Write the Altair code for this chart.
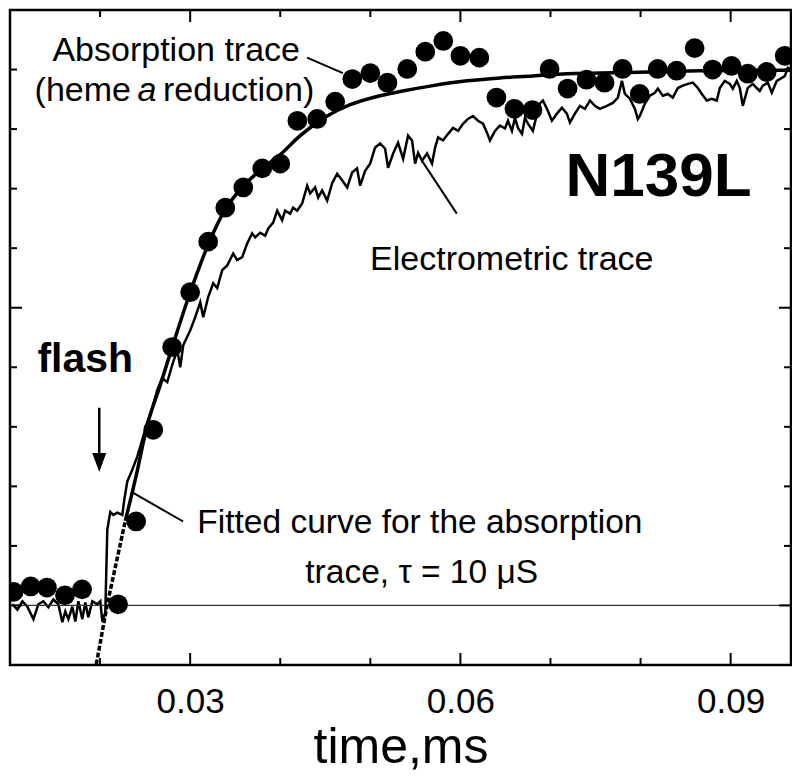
import altair as alt
import pandas as pd

# ---------------- data (time in ms, signal in arbitrary units) ----------------
x_major = [0.03, 0.06, 0.09]
x_minor = [0.02, 0.04, 0.05, 0.07, 0.08]
y_major = [0, 5]
y_minor = [1, 2, 3, 4, 6, 7, 8, 9]

# absorption trace (filled circles)
abs_t = [0.0104, 0.0123, 0.0141, 0.0161, 0.0180, 0.0220, 0.0240, 0.0259, 0.0280, 0.0300,
         0.0320, 0.0339, 0.0359, 0.0380, 0.0400, 0.0419, 0.0441, 0.0461, 0.0480, 0.0500,
         0.0519, 0.0541, 0.0561, 0.0581, 0.0600, 0.0621, 0.0640, 0.0660, 0.0680, 0.0699,
         0.0719, 0.0740, 0.0760, 0.0780, 0.0799, 0.0819, 0.0840, 0.0860, 0.0880, 0.0901,
         0.0919, 0.0940, 0.0960, 0.0980]
abs_v = [0.23, 0.32, 0.30, 0.17, 0.27, 0.02, 1.41, 2.95, 4.34, 5.26,
         6.11, 6.68, 7.02, 7.34, 7.42, 8.14, 8.17, 8.46, 8.84, 8.94,
         8.78, 9.01, 9.30, 9.48, 9.23, 9.20, 8.53, 8.34, 8.32, 9.01,
         8.68, 8.83, 8.78, 9.01, 8.59, 9.01, 8.98, 9.36, 9.00, 9.06,
         8.93, 8.96, 9.23, 8.32]

# electrometric trace (noisy line)
el_t = [0.01027, 0.01082, 0.01138, 0.01193, 0.01260, 0.01315, 0.01370, 0.01426, 0.01481, 0.01537,
        0.01581, 0.01614, 0.01648, 0.01692, 0.01725, 0.01759, 0.01803, 0.01836, 0.01869, 0.01914,
        0.01969, 0.02003, 0.02025, 0.02058, 0.02080, 0.02113, 0.02147, 0.02191, 0.02247, 0.02269,
        0.02302, 0.02357, 0.02413, 0.02468, 0.02524, 0.02580, 0.02635, 0.02690, 0.02746, 0.02801,
        0.02857, 0.02890, 0.02923, 0.03001, 0.03056, 0.03112, 0.03145, 0.03200, 0.03256, 0.03300,
        0.03356, 0.03411, 0.03478, 0.03522, 0.03578, 0.03633, 0.03688, 0.03722, 0.03777, 0.03833,
        0.03866, 0.03921, 0.03966, 0.04021, 0.04054, 0.04110, 0.04143, 0.04188, 0.04243, 0.04299,
        0.04332, 0.04387, 0.04421, 0.04465, 0.04521, 0.04576, 0.04632, 0.04687, 0.04743, 0.04798,
        0.04853, 0.04887, 0.04942, 0.04998, 0.05053, 0.05109, 0.05164, 0.05197, 0.05253, 0.05308,
        0.05364, 0.05419, 0.05463, 0.05497, 0.05530, 0.05574, 0.05630, 0.05685, 0.05719, 0.05752,
        0.05807, 0.05863, 0.05918, 0.05974, 0.06029, 0.06084, 0.06140, 0.06195, 0.06251, 0.06295,
        0.06328, 0.06384, 0.06439, 0.06495, 0.06528, 0.06572, 0.06606, 0.06639, 0.06684, 0.06717,
        0.06750, 0.06805, 0.06850, 0.06883, 0.06916, 0.06961, 0.07016, 0.07072, 0.07127, 0.07182,
        0.07216, 0.07271, 0.07327, 0.07382, 0.07438, 0.07493, 0.07549, 0.07626, 0.07693, 0.07748,
        0.07793, 0.07826, 0.07881, 0.07937, 0.07970, 0.07992, 0.08048, 0.08103, 0.08159, 0.08192,
        0.08247, 0.08303, 0.08358, 0.08414, 0.08469, 0.08525, 0.08580, 0.08636, 0.08680, 0.08735,
        0.08791, 0.08846, 0.08880, 0.08935, 0.08991, 0.09024, 0.09068, 0.09102, 0.09135, 0.09190,
        0.09246, 0.09290, 0.09323, 0.09357, 0.09412, 0.09457, 0.09512, 0.09568, 0.09601, 0.09634,
        0.09679]
el_v = [0.02, -0.07, 0.07, -0.02, -0.23, 0.02, 0.07, -0.03, 0.10, 0.02,
        -0.28, -0.10, -0.23, -0.02, -0.27, 0.07, -0.23, 0.05, -0.20, 0.07,
        0.02, 0.07, -0.27, -0.12, 1.27, 1.57, 1.52, 1.56, 1.52, 1.78,
        2.08, 2.28, 2.50, 2.78, 3.07, 3.32, 3.62, 3.82, 3.75, 4.04,
        4.29, 4.00, 4.37, 4.62, 4.84, 5.09, 4.84, 5.18, 5.41, 5.33,
        5.63, 5.71, 5.91, 5.80, 5.85, 6.08, 6.25, 6.18, 6.26, 6.21,
        6.33, 6.43, 6.63, 6.47, 6.63, 6.58, 6.68, 6.63, 6.75, 7.05,
        6.92, 7.02, 6.85, 6.97, 6.80, 7.09, 7.25, 7.14, 7.02, 7.27,
        7.34, 7.05, 7.30, 7.42, 7.69, 7.76, 7.67, 7.35, 7.59, 7.77,
        7.50, 7.89, 7.81, 7.42, 7.60, 7.47, 7.59, 7.42, 7.69, 7.86,
        7.81, 7.92, 8.02, 7.97, 8.09, 8.17, 8.22, 8.14, 8.09, 7.94,
        7.81, 7.97, 8.06, 8.01, 8.14, 7.97, 8.19, 8.02, 7.92, 8.19,
        8.09, 7.97, 8.26, 8.43, 8.48, 8.34, 8.14, 8.26, 8.36, 8.26,
        8.11, 8.26, 8.39, 8.34, 8.48, 8.39, 8.34, 8.39, 8.44, 8.53,
        8.81, 8.59, 8.51, 8.34, 8.17, 8.22, 8.43, 8.56, 8.61, 8.68,
        8.56, 8.59, 8.53, 8.69, 8.73, 8.76, 8.78, 8.69, 8.59, 8.48,
        8.51, 8.48, 8.69, 8.81, 8.76, 8.68, 8.81, 8.69, 8.39, 8.69,
        8.76, 8.69, 8.64, 8.73, 8.78, 8.61, 8.81, 8.86, 8.89, 9.03,
        9.00]

# fitted curve (dashed start, then solid)
fit_dash_t = [0.01958, 0.02080, 0.02180, 0.02280]
fit_dash_v = [-0.99, 0.02, 0.72, 1.42]
fit_t = [0.02280, 0.02402, 0.02524, 0.02668, 0.02801, 0.03001, 0.03200, 0.03389, 0.03589, 0.03800,
         0.03999, 0.04221, 0.04521, 0.04776, 0.05053, 0.05330, 0.05696, 0.06073, 0.06439, 0.06805,
         0.07182, 0.07549, 0.08103, 0.08658, 0.09213, 0.09690]
fit_v = [1.42, 2.19, 3.03, 3.70, 4.34, 5.26, 6.06, 6.65, 7.04, 7.34,
         7.57, 7.89, 8.22, 8.41, 8.54, 8.63, 8.73, 8.81, 8.86, 8.89,
         8.93, 8.94, 8.96, 8.98, 8.99, 8.99]

# ---------------- chart ----------------
W, H = 781, 655
XDOM = [0.0100, 0.0967]
YDOM = [-1, 10]
SANS = "Liberation Sans, Arial, Helvetica"

xs = alt.Scale(domain=XDOM, nice=False, zero=False)
ys = alt.Scale(domain=YDOM, nice=False, zero=False)

x_axis = alt.Axis(values=x_major, format=".2f", ticks=False, tickSize=0, domain=False, grid=False,
                  labelFont=SANS, labelFontSize=35, labelColor="black", labelPadding=19,
                  title="time,ms", titleFont=SANS, titleFontSize=50, titleFontWeight="normal",
                  titleColor="black", titlePadding=3)


def X(field="t"):
    return alt.X(f"{field}:Q", scale=xs, axis=x_axis)


def Y(field="v"):
    return alt.Y(f"{field}:Q", scale=ys, axis=None)


df_abs = pd.DataFrame({"t": abs_t, "v": abs_v})
df_el = pd.DataFrame({"t": el_t, "v": el_v})
df_fd = pd.DataFrame({"t": fit_dash_t, "v": fit_dash_v})
df_f = pd.DataFrame({"t": fit_t, "v": fit_v})

baseline = alt.Chart(pd.DataFrame({"v": [0]})).mark_rule(color="#333333", strokeWidth=1.3).encode(
    y=Y(), x=alt.value(0), x2=alt.value(W))


# frame ticks (pointing inwards)
def xticks(vals, length, top):
    d = pd.DataFrame({"t": vals})
    if top:
        return alt.Chart(d).mark_rule(color="black", strokeWidth=2).encode(
            x=X(), y=alt.value(0), y2=alt.value(length))
    return alt.Chart(d).mark_rule(color="black", strokeWidth=2).encode(
        x=X(), y=alt.value(H), y2=alt.value(H - length))


def yticks(vals, length, right):
    d = pd.DataFrame({"v": vals})
    if right:
        return alt.Chart(d).mark_rule(color="black", strokeWidth=2).encode(
            y=Y(), x=alt.value(W), x2=alt.value(W - length))
    return alt.Chart(d).mark_rule(color="black", strokeWidth=2).encode(
        y=Y(), x=alt.value(0), x2=alt.value(length))


trace = alt.Chart(df_el).mark_line(color="black", strokeWidth=2.5, strokeJoin="miter").encode(
    x=X(), y=Y(), order="t:Q")

fit_dash = alt.Chart(df_fd).mark_line(color="black", strokeWidth=3.5, strokeDash=[5, 2]).encode(
    x=X(), y=Y())
fit_line = alt.Chart(df_f).mark_line(color="black", strokeWidth=3.5, interpolate="monotone").encode(
    x=X(), y=Y())

dots = alt.Chart(df_abs).mark_circle(color="black", opacity=1, size=390, clip=True).encode(
    x=X(), y=Y())

# annotations
leaders = pd.DataFrame({
    "t": [0.04297, 0.05572, 0.02368],
    "v": [9.20, 7.47, 1.89],
    "t2": [0.04696, 0.05960, 0.02922],
    "v2": [8.94, 6.58, 1.41],
})
leader_rules = alt.Chart(leaders).mark_rule(color="black", strokeWidth=2).encode(
    x=X(), y=Y(), x2="t2:Q", y2="v2:Q")

arrow_line = alt.Chart(pd.DataFrame({"t": [0.01991], "v": [3.32], "v2": [2.5]})).mark_rule(
    color="black", strokeWidth=2.5).encode(x=X(), y=Y(), y2="v2:Q")
arrow_head = alt.Chart(pd.DataFrame({"t": [0.01991], "v": [2.40]})).mark_point(
    shape="M-0.74,-1L0.74,-1L0,1Z", filled=True, color="black", opacity=1, size=361, strokeWidth=0
).encode(x=X(), y=Y())


def label(t, v, text, size=34, weight="normal", style="normal", align="center"):
    return alt.Chart(pd.DataFrame({"t": [t], "v": [v], "s": [text]})).mark_text(
        font=SANS, fontSize=size, fontWeight=weight, fontStyle=style, align=align,
        baseline="alphabetic", color="black").encode(x=X(), y=Y(), text="s:N")


texts = [
    label(0.02845, 9.15, "Absorption trace"),
    label(0.02343, 8.48, "(heme", align="right"),
    label(0.02521, 8.48, "a", style="italic"),
    label(0.02699, 8.48, "reduction)", align="left"),
    label(0.08200, 6.88, "N139L", size=62, weight="bold"),
    label(0.06570, 5.63, "Electrometric trace"),
    label(0.05550, 1.22, "Fitted curve for the absorption", size=33.5),
    label(0.05570, 0.38, "trace, \u03c4 = 10 \u03bcS", size=33.5),
    label(0.01836, 3.92, "flash", size=41, weight="bold"),
]

layers = [trace, baseline,
          xticks(x_major, 12, False), xticks(x_minor, 7, False),
          xticks(x_major, 12, True), xticks(x_minor, 7, True),
          yticks(y_major, 12, False), yticks(y_minor, 7, False),
          yticks(y_major, 12, True), yticks(y_minor, 7, True),
          fit_dash, fit_line, dots, leader_rules, arrow_line, arrow_head] + texts

chart = alt.layer(*layers).properties(
    width=W, height=H,
    padding={"left": 2, "top": 2, "right": 1, "bottom": 107},
    autosize=alt.AutoSizeParams(type="none"),
    background="white",
).configure_view(stroke="black", strokeWidth=2.5)

chart.save("out.html", embed_options={"renderer": "svg", "actions": False})
